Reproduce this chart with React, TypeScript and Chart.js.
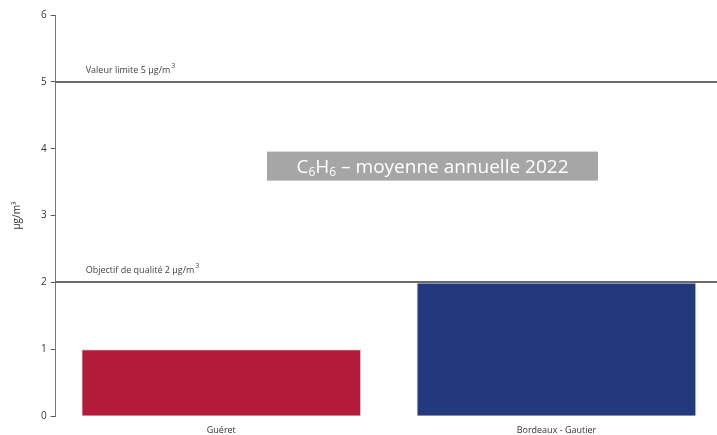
import React, { useEffect, useRef } from "react";
import { Chart, registerables } from "chart.js";

Chart.register(...registerables);

const categories = ["Guéret", "Bordeaux - Gautier"];
const values = [1, 2];
const barColors = ["#b31b3a", "#223a7c"];
const thresholdValues = [5, 2];
const thresholdLabels = ["Valeur limite 5 µg/m", "Objectif de qualité 2 µg/m"];
const yTicks = [0, 1, 2, 3, 4, 5, 6];
const FONT = "'Open Sans', 'Noto Sans', sans-serif";

const widenX = {
  id: "widenX",
  afterLayout(chart: any) {
    const x = chart.scales.x;
    x.left -= 2;
    x.right += 7;
    x.width = x.right - x.left;
    x.configure();
  },
};

const overlay = {
  id: "overlay",
  afterDatasetsDraw(chart: any) {
    const { ctx, chartArea, scales } = chart;
    const y = scales.y;
    ctx.save();
    thresholdValues.forEach((v, i) => {
      const py = Math.round(y.getPixelForValue(v));
      ctx.strokeStyle = "#3a3a3a";
      ctx.lineWidth = 1.5;
      ctx.beginPath();
      ctx.moveTo(chartArea.left, py);
      ctx.lineTo(chartArea.right, py);
      ctx.stroke();
      ctx.fillStyle = "#444";
      ctx.font = `9px ${FONT}`;
      ctx.textBaseline = "alphabetic";
      ctx.textAlign = "left";
      const lx = chartArea.left + 30;
      const ly = py - 9;
      const label = thresholdLabels[i];
      ctx.fillText(label, lx, ly);
      const w = ctx.measureText(label).width;
      ctx.font = `7px ${FONT}`;
      ctx.fillText("3", lx + w + 1, ly - 5);
    });
    // title box
    const cx = 432.5;
    const boxW = 331, boxH = 29;
    const bx = cx - boxW / 2;
    const by = y.getPixelForValue(3.74) - boxH / 2;
    ctx.fillStyle = "#a6a6a6";
    ctx.fillRect(bx, by, boxW, boxH);
    ctx.fillStyle = "#ffffff";
    const big = `19px ${FONT}`;
    const small = `12px ${FONT}`;
    const parts: [string, string, number][] = [
      ["C", big, 0],
      ["6", small, 3],
      ["H", big, 0],
      ["6", small, 3],
      [" – moyenne annuelle 2022", big, 0],
    ];
    let total = 0;
    parts.forEach(([t, f]) => {
      ctx.font = f;
      total += ctx.measureText(t).width;
    });
    let x = cx - total / 2;
    const base = by + boxH / 2 + 7;
    ctx.textAlign = "left";
    parts.forEach(([t, f, dy]) => {
      ctx.font = f;
      ctx.fillText(t, x, base + dy);
      x += ctx.measureText(t).width;
    });
    ctx.restore();
  },
};

export default function App() {
  const ref = useRef<HTMLCanvasElement>(null);
  useEffect(() => {
    document.body.style.margin = "0";
    const chart = new Chart(ref.current!, {
      type: "bar",
      data: {
        labels: categories,
        datasets: [
          {
            data: values,
            backgroundColor: barColors,
            borderColor: "#e8d8e0",
            borderWidth: 1,
            barPercentage: 0.835,
            categoryPercentage: 1,
          },
        ],
      },
      options: {
        animation: false,
        responsive: false,
        layout: { padding: { top: 15, right: 0, bottom: -2, left: 11 } },
        plugins: { legend: { display: false }, tooltip: { enabled: false }, title: { display: false } },
        scales: {
          x: {
            grid: { display: false },
            border: { display: false },
            ticks: { color: "#333", font: { size: 9, family: FONT }, padding: 1 },
          },
          y: {
            min: 0,
            max: 6,
            afterBuildTicks: (s: any) => {
              s.ticks = yTicks.map((v) => ({ value: v }));
            },
            grid: { drawOnChartArea: false, drawTicks: true, tickLength: 5, color: "#555" },
            border: { display: true, color: "#777", width: 1 },
            ticks: { color: "#333", font: { size: 10, family: FONT }, padding: 4 },
            title: {
              display: true,
              text: "µg/m³",
              color: "#333",
              font: { size: 10, family: FONT },
              padding: { top: 0, bottom: 14 },
            },
          },
        },
      },
      plugins: [widenX, overlay],
    });
    return () => chart.destroy();
  }, []);
  return <canvas ref={ref} width={717} height={435} style={{ display: "block" }} />;
}
